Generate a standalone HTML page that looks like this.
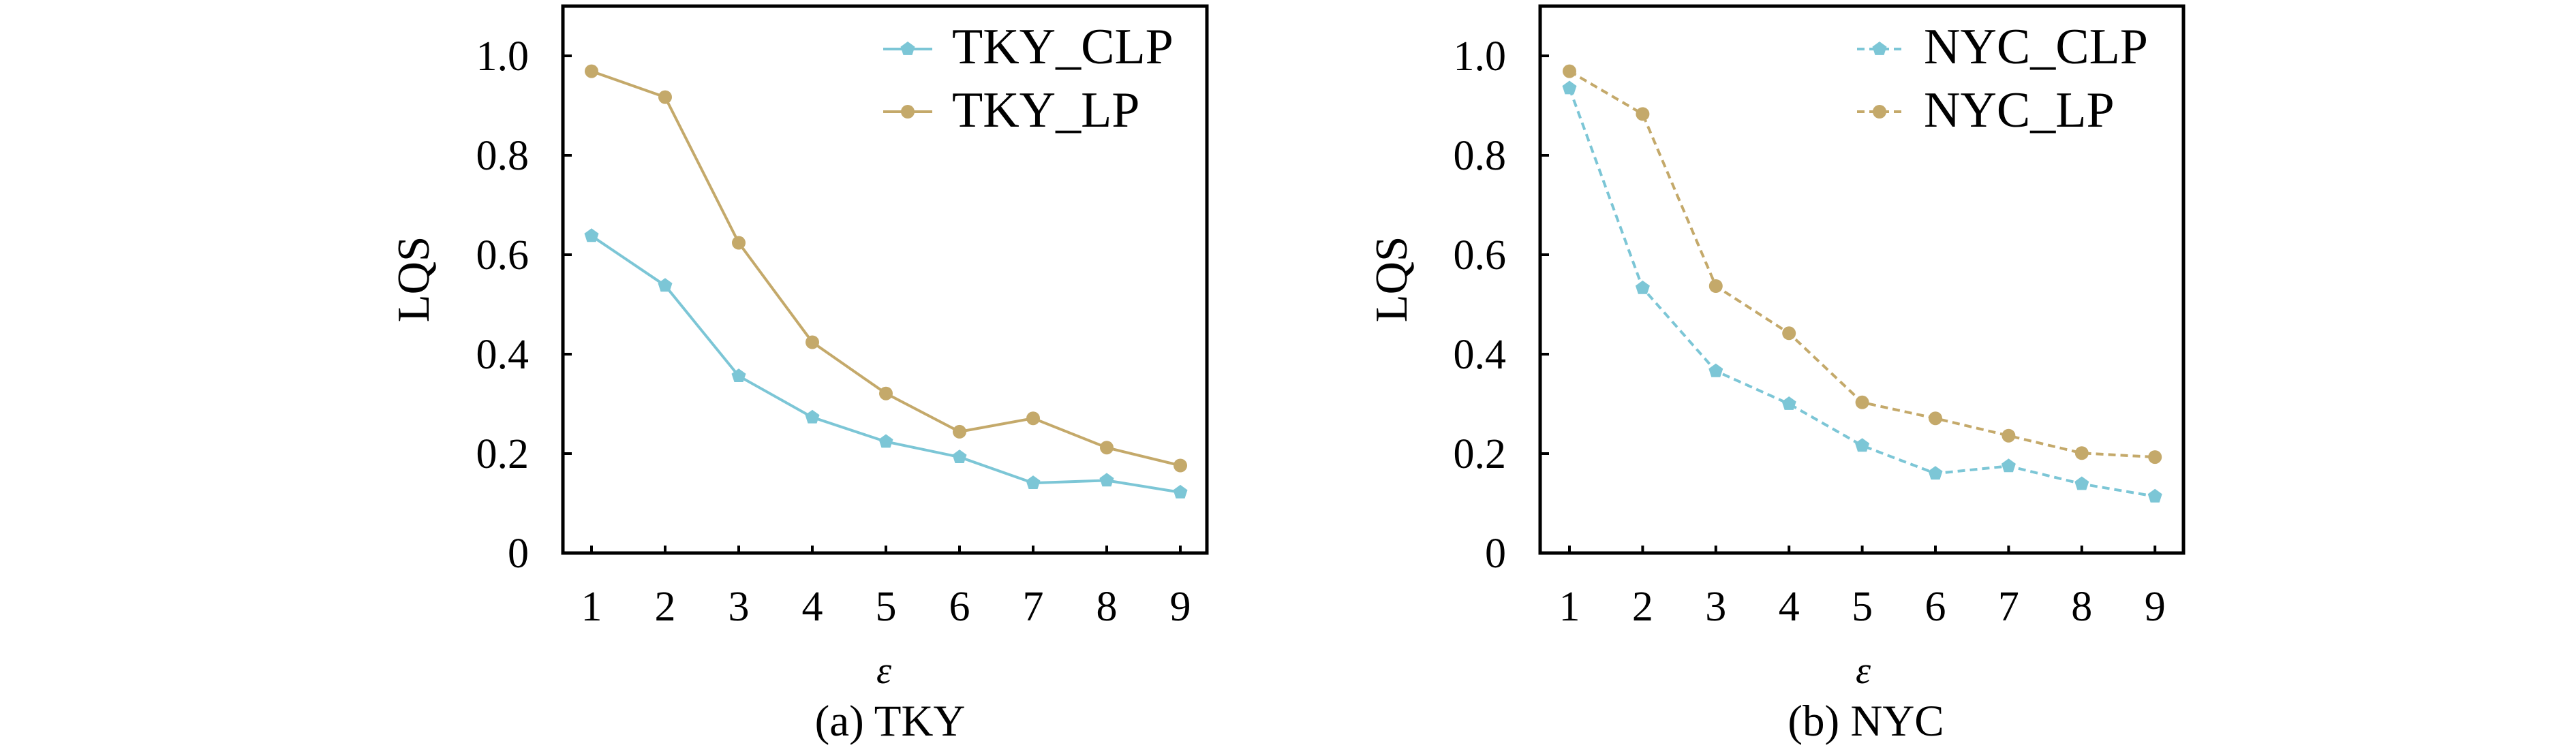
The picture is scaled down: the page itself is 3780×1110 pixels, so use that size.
<!DOCTYPE html>
<html><head><meta charset="utf-8"><style>
html,body{margin:0;padding:0;background:#fff;}
svg{display:block;}
text{font-family:"Liberation Serif",serif;fill:#000;}
</style></head><body>
<svg width="3780" height="1110" viewBox="0 0 3780 1110" xmlns="http://www.w3.org/2000/svg">
<defs>
<path id="pent" d="M0,-11 L10.5,-3.4 L6.5,8.9 L-6.5,8.9 L-10.5,-3.4 Z" fill="#7cc6d6"/>
<circle id="circ" r="10" fill="#c4a96a"/>
</defs>

<!-- LEFT PLOT -->
<g>
<rect x="826" y="9" width="945" height="803" fill="none" stroke="#000" stroke-width="5"/>
<g stroke="#000" stroke-width="4">
<line x1="826" y1="812" x2="839" y2="812"/><line x1="826" y1="666" x2="839" y2="666"/>
<line x1="826" y1="520" x2="839" y2="520"/><line x1="826" y1="374" x2="839" y2="374"/>
<line x1="826" y1="228" x2="839" y2="228"/><line x1="826" y1="82" x2="839" y2="82"/>
<line x1="868" y1="812" x2="868" y2="801"/><line x1="976" y1="812" x2="976" y2="801"/>
<line x1="1084" y1="812" x2="1084" y2="801"/><line x1="1192" y1="812" x2="1192" y2="801"/>
<line x1="1300" y1="812" x2="1300" y2="801"/><line x1="1408" y1="812" x2="1408" y2="801"/>
<line x1="1516" y1="812" x2="1516" y2="801"/><line x1="1624" y1="812" x2="1624" y2="801"/>
<line x1="1732" y1="812" x2="1732" y2="801"/>
</g>
<g font-size="62" text-anchor="end">
<text x="776" y="833">0</text><text x="776" y="687">0.2</text><text x="776" y="541">0.4</text>
<text x="776" y="395">0.6</text><text x="776" y="249">0.8</text><text x="776" y="103">1.0</text>
</g>
<g font-size="62" text-anchor="middle">
<text x="868" y="911">1</text><text x="976" y="911">2</text><text x="1084" y="911">3</text>
<text x="1192" y="911">4</text><text x="1300" y="911">5</text><text x="1408" y="911">6</text>
<text x="1516" y="911">7</text><text x="1624" y="911">8</text><text x="1732" y="911">9</text>
</g>
<text x="0" y="0" font-size="67" text-anchor="middle" transform="translate(629,410) rotate(-90)">LQS</text>
<text x="1297" y="1003" font-size="56" font-style="italic" text-anchor="middle">ε</text>
<text x="1306" y="1080" font-size="65" text-anchor="middle">(a) TKY</text>
<polyline fill="none" stroke="#c4a96a" stroke-width="4" points="868,104.6 976,142.6 1084,356.5 1192,502.5 1300,577.7 1408,633.9 1516,614.2 1624,657.2 1732,683.5"/>
<polyline fill="none" stroke="#7cc6d6" stroke-width="4" points="868,346.3 976,419.3 1084,552.1 1192,612.7 1300,648.5 1408,671.1 1516,709.1 1624,705.4 1732,722.9"/>
<use href="#circ" x="868" y="104.6"/><use href="#circ" x="976" y="142.6"/><use href="#circ" x="1084" y="356.5"/>
<use href="#circ" x="1192" y="502.5"/><use href="#circ" x="1300" y="577.7"/><use href="#circ" x="1408" y="633.9"/>
<use href="#circ" x="1516" y="614.2"/><use href="#circ" x="1624" y="657.2"/><use href="#circ" x="1732" y="683.5"/>
<use href="#pent" x="868" y="346.3"/><use href="#pent" x="976" y="419.3"/><use href="#pent" x="1084" y="552.1"/>
<use href="#pent" x="1192" y="612.7"/><use href="#pent" x="1300" y="648.5"/><use href="#pent" x="1408" y="671.1"/>
<use href="#pent" x="1516" y="709.1"/><use href="#pent" x="1624" y="705.4"/><use href="#pent" x="1732" y="722.9"/>
<line x1="1296" y1="72" x2="1368" y2="72" stroke="#7cc6d6" stroke-width="4"/><use href="#pent" x="1332" y="72"/>
<line x1="1296" y1="164" x2="1368" y2="164" stroke="#c4a96a" stroke-width="4"/><use href="#circ" x="1332" y="164"/>
<text x="1397" y="93" font-size="74">TKY_CLP</text>
<text x="1397" y="186" font-size="74">TKY_LP</text>
</g>

<!-- RIGHT PLOT -->
<g>
<rect x="2260" y="9" width="944" height="803" fill="none" stroke="#000" stroke-width="5"/>
<g stroke="#000" stroke-width="4">
<line x1="2260" y1="812" x2="2273" y2="812"/><line x1="2260" y1="666" x2="2273" y2="666"/>
<line x1="2260" y1="520" x2="2273" y2="520"/><line x1="2260" y1="374" x2="2273" y2="374"/>
<line x1="2260" y1="228" x2="2273" y2="228"/><line x1="2260" y1="82" x2="2273" y2="82"/>
<line x1="2303" y1="812" x2="2303" y2="801"/><line x1="2410.4" y1="812" x2="2410.4" y2="801"/>
<line x1="2517.8" y1="812" x2="2517.8" y2="801"/><line x1="2625.2" y1="812" x2="2625.2" y2="801"/>
<line x1="2732.6" y1="812" x2="2732.6" y2="801"/><line x1="2840" y1="812" x2="2840" y2="801"/>
<line x1="2947.4" y1="812" x2="2947.4" y2="801"/><line x1="3054.8" y1="812" x2="3054.8" y2="801"/>
<line x1="3162.2" y1="812" x2="3162.2" y2="801"/>
</g>
<g font-size="62" text-anchor="end">
<text x="2210" y="833">0</text><text x="2210" y="687">0.2</text><text x="2210" y="541">0.4</text>
<text x="2210" y="395">0.6</text><text x="2210" y="249">0.8</text><text x="2210" y="103">1.0</text>
</g>
<g font-size="62" text-anchor="middle">
<text x="2303" y="911">1</text><text x="2410.4" y="911">2</text><text x="2517.8" y="911">3</text>
<text x="2625.2" y="911">4</text><text x="2732.6" y="911">5</text><text x="2840" y="911">6</text>
<text x="2947.4" y="911">7</text><text x="3054.8" y="911">8</text><text x="3162.2" y="911">9</text>
</g>
<text x="0" y="0" font-size="67" text-anchor="middle" transform="translate(2064,410) rotate(-90)">LQS</text>
<text x="2734" y="1003" font-size="56" font-style="italic" text-anchor="middle">ε</text>
<text x="2738" y="1080" font-size="65" text-anchor="middle">(b) NYC</text>
<polyline fill="none" stroke="#c4a96a" stroke-width="4" stroke-dasharray="11,7" points="2303,104.6 2410.4,167.4 2517.8,420 2625.2,489.3 2732.6,590.8 2840,614.2 2947.4,639.7 3054.8,665.3 3162.2,671.1"/>
<polyline fill="none" stroke="#7cc6d6" stroke-width="4" stroke-dasharray="11,7" points="2303,129.5 2410.4,422.9 2517.8,544.8 2625.2,593 2732.6,654.3 2840,695.2 2947.4,684.3 3054.8,710.5 3162.2,728.8"/>
<use href="#circ" x="2303" y="104.6"/><use href="#circ" x="2410.4" y="167.4"/><use href="#circ" x="2517.8" y="420"/>
<use href="#circ" x="2625.2" y="489.3"/><use href="#circ" x="2732.6" y="590.8"/><use href="#circ" x="2840" y="614.2"/>
<use href="#circ" x="2947.4" y="639.7"/><use href="#circ" x="3054.8" y="665.3"/><use href="#circ" x="3162.2" y="671.1"/>
<use href="#pent" x="2303" y="129.5"/><use href="#pent" x="2410.4" y="422.9"/><use href="#pent" x="2517.8" y="544.8"/>
<use href="#pent" x="2625.2" y="593"/><use href="#pent" x="2732.6" y="654.3"/><use href="#pent" x="2840" y="695.2"/>
<use href="#pent" x="2947.4" y="684.3"/><use href="#pent" x="3054.8" y="710.5"/><use href="#pent" x="3162.2" y="728.8"/>
<line x1="2725" y1="72" x2="2792" y2="72" stroke="#7cc6d6" stroke-width="4" stroke-dasharray="11,7"/><use href="#pent" x="2758" y="72"/>
<line x1="2725" y1="164" x2="2792" y2="164" stroke="#c4a96a" stroke-width="4" stroke-dasharray="11,7"/><use href="#circ" x="2758" y="164"/>
<text x="2823" y="93" font-size="74">NYC_CLP</text>
<text x="2823" y="186" font-size="74">NYC_LP</text>
</g>
</svg>
</body></html>
